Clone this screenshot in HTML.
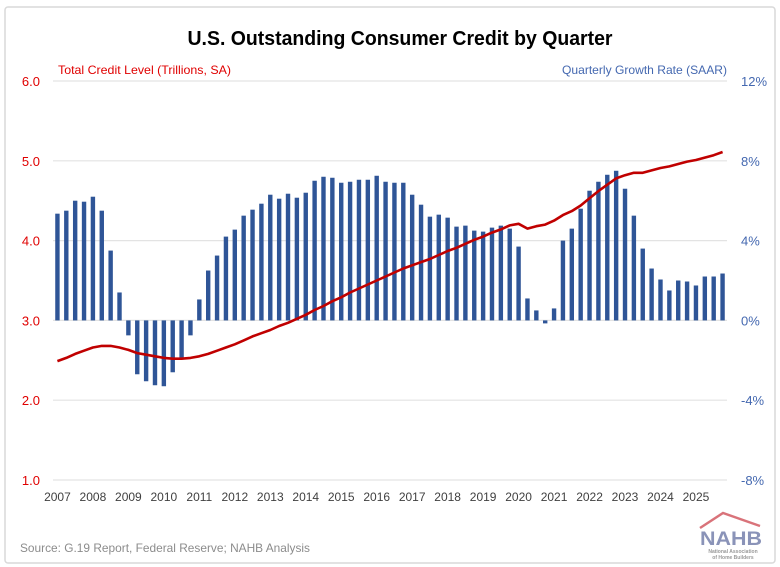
<!DOCTYPE html>
<html><head><meta charset="utf-8"><style>
html,body{margin:0;padding:0;background:#fff;}
svg{display:block;font-family:"Liberation Sans",sans-serif;}
</style></head><body>
<svg id="chart" width="780" height="567" viewBox="0 0 780 567">
<rect x="5" y="7" width="770" height="556" fill="#fff" stroke="#d9d9d9" stroke-width="1.5" rx="3"/>
<text x="400" y="45" text-anchor="middle" font-size="20" font-weight="bold" fill="#000" textLength="425" lengthAdjust="spacingAndGlyphs">U.S. Outstanding Consumer Credit by Quarter</text>
<text x="58" y="74" font-size="12" fill="#e00000" textLength="173" lengthAdjust="spacingAndGlyphs">Total Credit Level (Trillions, SA)</text>
<text x="727" y="74" text-anchor="end" font-size="12" fill="#4468b0" textLength="165" lengthAdjust="spacingAndGlyphs">Quarterly Growth Rate (SAAR)</text>
<g id="grid"></g><g id="bars"></g><g id="line"></g><g id="axes"></g>
<text x="20" y="552" font-size="12" fill="#8c8c8c" textLength="290" lengthAdjust="spacingAndGlyphs">Source: G.19 Report, Federal Reserve; NAHB Analysis</text>
<g>
<polyline points="700,528 723,513 760,526" fill="none" stroke="#d9737a" stroke-width="2.5"/>
<text x="731" y="545" text-anchor="middle" font-size="19" font-weight="bold" fill="#8a93b8" textLength="62" lengthAdjust="spacingAndGlyphs">NAHB</text>
<text x="733" y="553" text-anchor="middle" font-size="5" fill="#999" font-weight="bold">National Association</text>
<text x="733" y="559" text-anchor="middle" font-size="5" fill="#999" font-weight="bold">of Home Builders</text>
</g>
</svg>
<script>
const categories = [];
for (let y = 2007; y <= 2025; y++) for (let q = 1; q <= 4; q++) categories.push(y + 'Q' + q);
const growthRate = [5.35,5.5,6.0,5.95,6.2,5.5,3.5,1.4,-0.75,-2.7,-3.05,-3.25,-3.3,-2.6,-1.9,-0.75,
1.05,2.5,3.25,4.2,4.55,5.25,5.55,5.85,6.3,6.1,6.35,6.15,6.4,7.0,7.2,7.15,6.9,6.95,7.05,7.05,
7.25,6.95,6.9,6.9,6.3,5.8,5.2,5.3,5.15,4.7,4.75,4.5,4.45,4.65,4.75,4.6,3.7,1.1,0.5,-0.15,
0.6,4.0,4.6,5.6,6.5,6.95,7.3,7.5,6.6,5.25,3.6,2.6,2.05,1.5,2.0,1.95,1.75,2.2,2.2,2.35];
const creditLevel = [2.49,2.53,2.58,2.62,2.66,2.68,2.68,2.66,2.63,2.59,2.57,2.55,2.53,2.52,2.52,2.53,
2.55,2.58,2.62,2.66,2.70,2.75,2.80,2.84,2.88,2.93,2.97,3.02,3.07,3.13,3.18,3.24,3.29,3.35,3.40,3.45,
3.50,3.55,3.60,3.65,3.69,3.73,3.77,3.82,3.87,3.91,3.96,4.01,4.05,4.10,4.14,4.19,4.21,4.15,4.18,4.20,
4.25,4.32,4.37,4.44,4.53,4.62,4.70,4.78,4.82,4.85,4.85,4.88,4.91,4.93,4.96,4.99,5.01,5.04,5.07,5.11];
const leftTicks = ['1.0','2.0','3.0','4.0','5.0','6.0'];
const rightTicks = ['-8%','-4%','0%','4%','8%','12%'];
const yearLabels = [];
for (let y = 2007; y <= 2025; y++) yearLabels.push(String(y));

const NS = 'http://www.w3.org/2000/svg';
const X0 = 53, X1 = 727, TOP = 81, BOT = 480;
const band = (X1 - X0) / categories.length;
const xPos = i => X0 + (i + 0.5) * band;
const yLeft = v => BOT - (v - 1) / 5 * (BOT - TOP);
const yRight = v => BOT - (v + 8) / 20 * (BOT - TOP);
function mk(tag, attrs, parent) {
  const e = document.createElementNS(NS, tag);
  for (const k in attrs) e.setAttribute(k, attrs[k]);
  parent.appendChild(e); return e;
}
const grid = document.getElementById('grid'), bars = document.getElementById('bars'),
      line = document.getElementById('line'), axes = document.getElementById('axes');
leftTicks.forEach((t, i) => {
  const v = parseFloat(t), y = yLeft(v);
  const g = mk('line', {x1: X0, x2: X1, y1: y, y2: y, stroke: '#e3e3e3', 'stroke-width': 1.2}, grid);
  
  
  const lt = mk('text', {x: 40, y: y + 5, 'text-anchor': 'end', 'font-size': 13, fill: '#e00000'}, axes);
  lt.textContent = t;
  
  
  const rt = mk('text', {x: 741, y: y + 5, 'font-size': 13, fill: '#4468b0'}, axes);
  rt.textContent = rightTicks[i];
  
  
});
yearLabels.forEach((t, i) => {
  const tx = mk('text', {x: xPos(i * 4), y: 501, 'text-anchor': 'middle', 'font-size': 12, fill: '#404040'}, axes);
  tx.textContent = t;
  
  
});
growthRate.forEach((v, i) => {
  const y0 = yRight(0), y = yRight(v);
  const r = mk('rect', {x: xPos(i) - 2.2, y: Math.min(y, y0), width: 4.4, height: Math.abs(y - y0), fill: '#2f5597'}, bars);
  
  
});
const pts = creditLevel.map((v, i) => xPos(i).toFixed(1) + ',' + yLeft(v).toFixed(1)).join(' ');
const pl = mk('polyline', {points: pts, fill: 'none', stroke: '#c00000', 'stroke-width': 2.6, 'stroke-linejoin': 'round'}, line);


</script>
</body></html>
